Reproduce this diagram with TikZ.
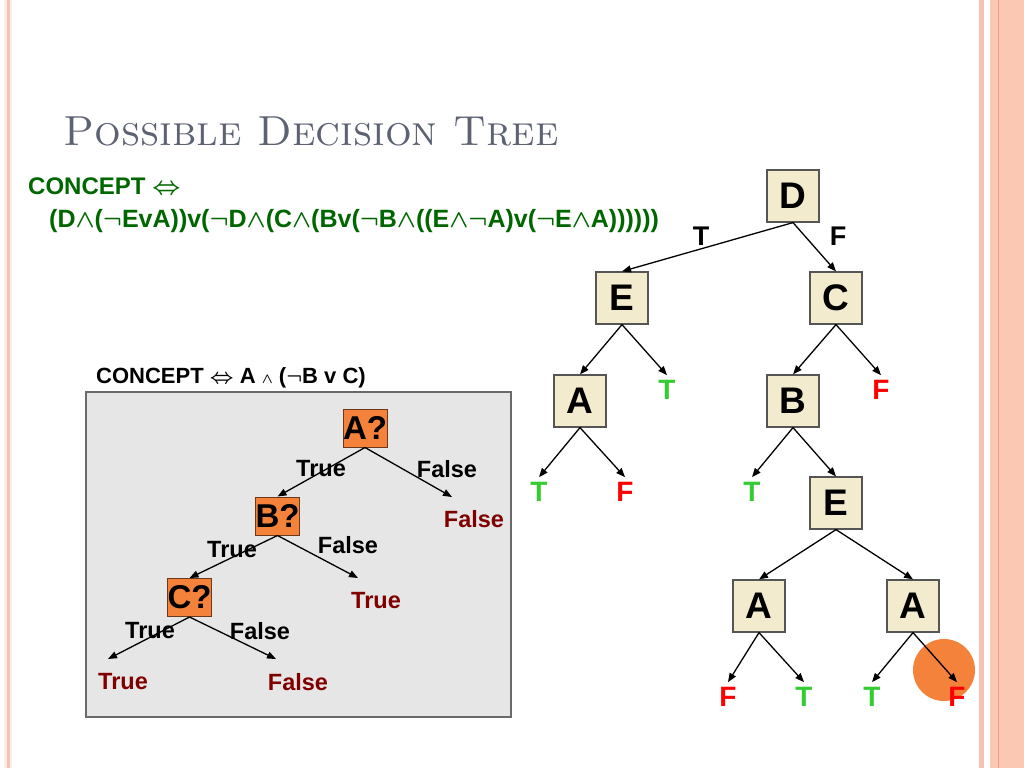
\documentclass[tikz,border=0pt]{standalone}
\usepackage{fontspec}
\setsansfont{Liberation Sans}
\usetikzlibrary{arrows.meta}
\definecolor{titulo}{HTML}{5C6272}
\definecolor{verdeescuro}{HTML}{006600}
\definecolor{verde}{HTML}{33CC33}
\definecolor{vermelho}{HTML}{FF0000}
\definecolor{vinho}{HTML}{800000}
\definecolor{bege}{HTML}{F3EBCD}
\definecolor{caixaborda}{HTML}{555555}
\definecolor{laranja}{HTML}{F5823A}
\definecolor{laranjaborda}{HTML}{6B3A1A}
\definecolor{painel}{HTML}{E6E6E6}
\definecolor{painelborda}{HTML}{6A6A6A}
\definecolor{rosa}{HTML}{F5C3B5}
\definecolor{rosaclaro}{HTML}{FCEEE6}
\definecolor{salmao}{HTML}{FBC8B4}
\definecolor{salmaoescuro}{HTML}{E8A28A}
\newcommand{\myiff}{\ensuremath{\Leftrightarrow}}
\newcommand{\myand}{\ensuremath{\wedge}}
\newcommand{\mysmalland}{\ensuremath{\scriptstyle\wedge}}
\newcommand{\mynot}{\ensuremath{\neg}}
\begin{document}
\begin{tikzpicture}[x=1pt, y=-1pt,
	caixa/.style={draw=caixaborda, fill=bege, line width=1.2pt, minimum width=52pt, minimum height=52pt, inner sep=0pt, font=\sffamily\bfseries\fontsize{37}{40}\selectfont},
	folhaT/.style={text=verde, inner sep=5pt, font=\sffamily\bfseries\fontsize{28}{30}\selectfont},
	folhaF/.style={folhaT, text=vermelho},
	rotulo/.style={inner sep=0pt, font=\sffamily\bfseries\fontsize{27}{30}\selectfont},
	pergunta/.style={draw=laranjaborda, fill=laranja, line width=1pt, minimum width=44pt, minimum height=38pt, inner sep=0pt, font=\sffamily\bfseries\fontsize{33}{36}\selectfont},
	ramo/.style={inner sep=0pt, font=\sffamily\bfseries\fontsize{23.5}{26}\selectfont},
	saida/.style={ramo, text=vinho},
	seta/.style={-{Triangle[length=9pt, width=7pt]}, line width=1.3pt}] %Início da figura
	\useasboundingbox (0,0) rectangle (1024,768); %Tamanho da página
		%Bordas
	\fill[rosaclaro] (4,0) rectangle (12,768);
	\fill[rosa] (7,0) rectangle (10,768);
	\fill[rosa] (979,0) rectangle (984,768);
	\fill[salmao] (990,0) rectangle (1024,768);
	\fill[salmaoescuro] (997.5,0) rectangle (999,768);
		%Título e conceito
	\node[anchor=base west, inner sep=0pt, text=titulo, font=\fontsize{42}{48}\selectfont] (tit) at (63,145) {\textsc{Possible Decision Tree}};
	\node[anchor=base west, inner sep=0pt, text=verdeescuro, font=\sffamily\bfseries\fontsize{24}{26}\selectfont\boldmath] (conc) at (28,194) {CONCEPT \myiff};
	\node[anchor=base west, inner sep=0pt, text=verdeescuro, font=\sffamily\bfseries\fontsize{25}{27}\selectfont\boldmath] (formula) at (49,227) {(D\myand(\mynot EvA))v(\mynot D\myand(C\myand(Bv(\mynot B\myand((E\myand\mynot A)v(\mynot E\myand A))))))};
		%Painel da esquerda
	\node[anchor=base west, inner sep=0pt, font=\sffamily\bfseries\fontsize{22}{24}\selectfont\boldmath] (conc2) at (96,383) {CONCEPT \myiff{} A \mysmalland{} (\mynot B v C)};
	\draw[draw=painelborda, fill=painel, line width=1.5pt] (86,392) rectangle (511,717); %Fundo cinza
	\node[pergunta] (qA) at (365,428) {A?};
	\node[pergunta] (qB) at (277.5,516) {B?};
	\node[pergunta] (qC) at (189.5,597.5) {C?};
	\coordinate (fimA) at (452,497);
	\coordinate (fimB) at (358,578);
	\coordinate (fimC1) at (108,659);
	\coordinate (fimC2) at (276,659);
	\draw[seta] (qA.south) -- (qB.north);
	\draw[seta] (qA.south) -- (fimA);
	\draw[seta] (qB.south) -- (qC.north);
	\draw[seta] (qB.south) -- (fimB);
	\draw[seta] (qC.south) -- (fimC1);
	\draw[seta] (qC.south) -- (fimC2);
	\node[ramo] (rA1) at (321,469) {True};
	\node[ramo] (rA2) at (447,469) {False};
	\node[ramo] (rB1) at (232,550) {True};
	\node[ramo] (rB2) at (348,545) {False};
	\node[ramo] (rC1) at (150,631) {True};
	\node[ramo] (rC2) at (260,631) {False};
	\node[saida] (sA) at (474,519) {False};
	\node[saida] (sB) at (376,601) {True};
	\node[saida] (sC1) at (123,682) {True};
	\node[saida] (sC2) at (298,682) {False};
		%Árvore da direita
	\fill[laranja] (944,670) circle (31); %Destaque
	\node[caixa] (D) at (793,196) {D};
	\node[caixa] (E) at (622,298) {E};
	\node[caixa] (C) at (836,298) {C};
	\node[caixa] (A1) at (580,401) {A};
	\node[caixa] (B) at (793,401) {B};
	\node[caixa] (E2) at (836,503) {E};
	\node[caixa] (A2) at (759,606) {A};
	\node[caixa] (A3) at (913,606) {A};
	\node[folhaT] (t1) at (667,390) {T};
	\node[folhaF] (f1) at (881,390) {F};
	\node[folhaT] (t2) at (539,492) {T};
	\node[folhaF] (f2) at (625,492) {F};
	\node[folhaT] (t3) at (752,492) {T};
	\node[folhaF] (f3) at (728,697) {F};
	\node[folhaT] (t4) at (804,697) {T};
	\node[folhaT] (t5) at (872,697) {T};
	\node[folhaF] (f4) at (957,697) {F};
	\node[rotulo] (lT) at (701,236) {T};
	\node[rotulo] (lF) at (838,236) {F};
	\draw[seta] (D.south) -- (E.north);
	\draw[seta] (D.south) -- (C.north);
	\draw[seta] (E.south) -- (A1.north);
	\draw[seta] (E.south) -- (t1.north);
	\draw[seta] (C.south) -- (B.north);
	\draw[seta] (C.south) -- (f1.north);
	\draw[seta] (A1.south) -- (t2.north);
	\draw[seta] (A1.south) -- (f2.north);
	\draw[seta] (B.south) -- (t3.north);
	\draw[seta] (B.south) -- (E2.north);
	\draw[seta] (E2.south) -- (A2.north);
	\draw[seta] (E2.south) -- (A3.north);
	\draw[seta] (A2.south) -- (f3.north);
	\draw[seta] (A2.south) -- (t4.north);
	\draw[seta] (A3.south) -- (t5.north);
	\draw[seta] (A3.south) -- (f4.north);
\end{tikzpicture}
\end{document}
